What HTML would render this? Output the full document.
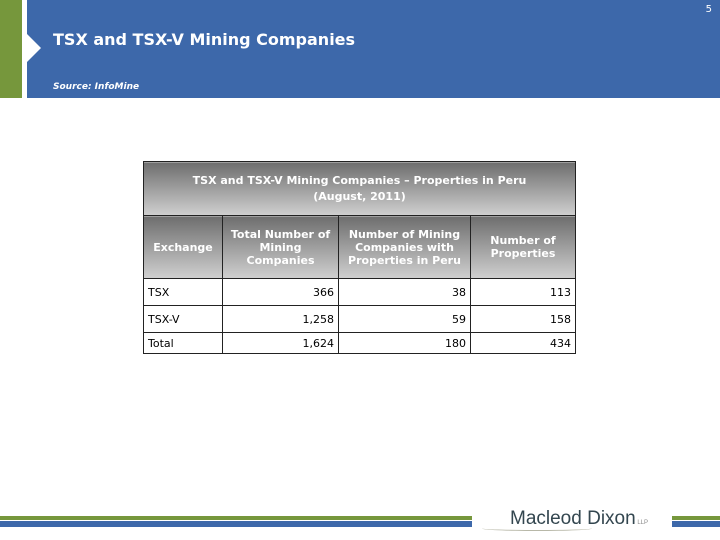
<!DOCTYPE html>
<html><head><meta charset="utf-8"><style>
body{margin:0;width:720px;height:540px;position:relative;background:#fff;font-family:"DejaVu Sans","Liberation Sans",sans-serif;overflow:hidden}
.abs{position:absolute}
table{position:absolute;left:143px;top:161px;width:433px;border-collapse:collapse;font-size:11px}
td{border:1px solid #222;padding:0 4px}
.h{background:linear-gradient(#6e6e6e,#d0d0d0);color:#fff;text-align:center;line-height:13px;font-weight:bold}
.n{text-align:right}
</style></head><body>
<div class="abs" style="left:0;top:0;width:22px;height:98px;background:#76973c"></div>
<div class="abs" style="left:27px;top:0;width:693px;height:98px;background:#3d68aa"></div>
<div class="abs" style="left:27px;top:34px;width:0;height:0;border-top:14px solid transparent;border-bottom:14px solid transparent;border-left:14px solid #fff"></div>
<div class="abs" style="right:8px;top:4px;color:#fff;font-size:10px">5</div>
<div class="abs" style="left:53px;top:30px;color:#fff;font-size:16px;font-weight:bold">TSX and TSX-V Mining Companies</div>
<div class="abs" style="left:53px;top:82px;color:#fff;font-size:9px;font-weight:bold;font-style:italic">Source: InfoMine</div>
<table>
<tr style="height:54px"><td colspan="4" class="h" style="line-height:16px">TSX and TSX-V Mining Companies – Properties in Peru<br>(August, 2011)</td></tr>
<tr style="height:63px">
<td class="h" style="width:70px">Exchange</td>
<td class="h" style="width:107px">Total Number of<br>Mining<br>Companies</td>
<td class="h" style="width:123px">Number of Mining<br>Companies with<br>Properties in Peru</td>
<td class="h">Number of<br>Properties</td></tr>
<tr style="height:27px"><td>TSX</td><td class="n">366</td><td class="n">38</td><td class="n">113</td></tr>
<tr style="height:27px"><td>TSX-V</td><td class="n">1,258</td><td class="n">59</td><td class="n">158</td></tr>
<tr style="height:21px"><td>Total</td><td class="n">1,624</td><td class="n">180</td><td class="n">434</td></tr>
</table>
<div class="abs" style="left:0;top:516px;width:472px;height:4px;background:#76973c"></div>
<div class="abs" style="left:0;top:521px;width:472px;height:6px;background:#3d68aa"></div>
<div class="abs" style="left:672px;top:516px;width:48px;height:4px;background:#76973c"></div>
<div class="abs" style="left:672px;top:521px;width:48px;height:6px;background:#3d68aa"></div>
<div class="abs" style="left:510px;top:508px;font-family:'Liberation Sans Narrow','Liberation Sans',sans-serif;font-size:19px;color:#33464f">Macleod Dixon<span style="font-size:6px;color:#888"> LLP</span></div>
<div class="abs" style="left:482px;top:526px;width:110px;height:4px;border-bottom:1px solid #b8b8a8;border-radius:50%"></div>
</body></html>
